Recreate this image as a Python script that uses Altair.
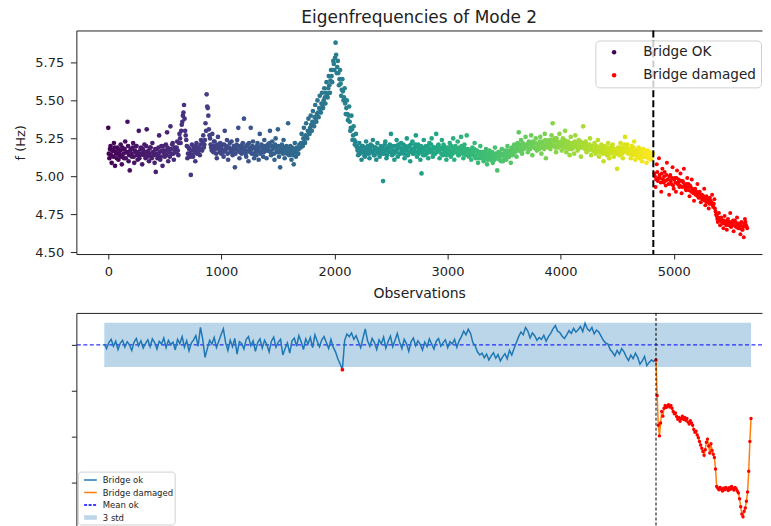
import altair as alt
import numpy as np
import pandas as pd

# ---------------- data ----------------
# Top panel: eigenfrequency (Hz), healthy bridge, one value every 10 observations from 0
ok_freq = [
    5.32, 5.12, 5.20, 5.09, 5.17, 5.22, 5.07, 5.15, 5.19, 5.11,
    5.14, 5.21, 5.08, 5.18, 5.12, 5.23, 5.16, 5.36, 5.10, 5.04,
    5.18, 5.13, 5.22, 5.09, 5.16, 5.20, 5.11, 5.30, 5.14, 5.19,
    5.08, 5.17, 5.21, 5.12, 5.31, 5.15, 5.10, 5.19, 5.13, 5.22,
    5.16, 5.09, 5.03, 5.18, 5.14, 5.27, 5.11, 5.20, 5.07, 5.17,
    5.13, 5.21, 5.29, 5.10, 5.18, 5.33, 5.15, 5.22, 5.11, 5.19,
    5.16, 5.23, 5.14, 5.28, 5.22, 5.34, 5.40, 5.47, 5.30, 5.24,
    5.12, 5.19, 5.15, 5.01, 5.21, 5.13, 5.18, 5.10, 5.22, 5.16,
    5.19, 5.14, 5.24, 5.17, 5.27, 5.21, 5.35, 5.54, 5.45, 5.31,
    5.25, 5.19, 5.28, 5.16, 5.23, 5.20, 5.12, 5.26, 5.18, 5.22,
    5.15, 5.21, 5.13, 5.30, 5.18, 5.24, 5.11, 5.19, 5.16, 5.23,
    5.14, 5.20, 5.06, 5.18, 5.24, 5.32, 5.12, 5.19, 5.15, 5.22,
    5.38, 5.17, 5.13, 5.21, 5.10, 5.19, 5.32, 5.15, 5.23, 5.12,
    5.18, 5.14, 5.22, 5.11, 5.28, 5.16, 5.20, 5.13, 5.24, 5.17,
    5.12, 5.21, 5.17, 5.30, 5.14, 5.23, 5.19, 5.11, 5.25, 5.16,
    5.31, 5.13, 5.06, 5.20, 5.17, 5.24, 5.12, 5.19, 5.15, 5.35,
    5.14, 5.20, 5.11, 5.17, 5.08, 5.22, 5.13, 5.18, 5.15, 5.21,
    5.19, 5.28, 5.20, 5.32, 5.22, 5.35, 5.25, 5.38, 5.28, 5.40,
    5.30, 5.43, 5.33, 5.47, 5.36, 5.50, 5.39, 5.53, 5.42, 5.55,
    5.45, 5.58, 5.48, 5.62, 5.52, 5.66, 5.55, 5.70, 5.62, 5.76,
    5.70, 5.88, 5.68, 5.76, 5.60, 5.70, 5.53, 5.64, 5.50, 5.58,
    5.41, 5.50, 5.37, 5.46, 5.30, 5.40, 5.24, 5.33, 5.21, 5.28,
    5.19, 5.14, 5.22, 5.16, 5.11, 5.20, 5.17, 5.13, 5.23, 5.15,
    5.18, 5.12, 5.21, 5.16, 5.24, 5.14, 5.19, 5.11, 5.22, 5.17,
    5.13, 5.20, 5.15, 4.97, 5.18, 5.23, 5.12, 5.19, 5.16, 5.21,
    5.28, 5.14, 5.20, 5.11, 5.17, 5.24, 5.13, 5.19, 5.15, 5.22,
    5.16, 5.21, 5.12, 5.18, 5.25, 5.14, 5.20, 5.10, 5.17, 5.23,
    5.15, 5.19, 5.27, 5.13, 5.21, 5.17, 5.11, 5.02, 5.18, 5.24,
    5.14, 5.20, 5.16, 5.12, 5.22, 5.18, 5.25, 5.13, 5.19, 5.15,
    5.28, 5.17, 5.21, 5.12, 5.18, 5.24, 5.14, 5.20, 5.16, 5.11,
    5.19, 5.15, 5.22, 5.13, 5.17, 5.25, 5.11, 5.20, 5.16, 5.23,
    5.14, 5.19, 5.26, 5.17, 5.12, 5.21, 5.15, 5.27, 5.18, 5.13,
    5.16, 5.11, 5.19, 5.14, 5.22, 5.12, 5.17, 5.09, 5.15, 5.20,
    5.12, 5.16, 5.10, 5.14, 5.18, 5.08, 5.13, 5.17, 5.11, 5.15,
    5.09, 5.14, 5.19, 5.12, 5.04, 5.16, 5.11, 5.15, 5.18, 5.10,
    5.14, 5.17, 5.11, 5.20, 5.13, 5.16, 5.09, 5.19, 5.15, 5.21,
    5.17, 5.13, 5.22, 5.29, 5.18, 5.24, 5.15, 5.21, 5.19, 5.26,
    5.20, 5.16, 5.23, 5.18, 5.27, 5.14, 5.22, 5.19, 5.25, 5.17,
    5.21, 5.18, 5.26, 5.15, 5.23, 5.20, 5.28, 5.12, 5.22, 5.19,
    5.24, 5.18, 5.27, 5.35, 5.20, 5.25, 5.16, 5.23, 5.19, 5.28,
    5.21, 5.17, 5.25, 5.19, 5.30, 5.16, 5.23, 5.20, 5.14, 5.26,
    5.18, 5.22, 5.15, 5.27, 5.20, 5.17, 5.24, 5.19, 5.13, 5.22,
    5.33, 5.19, 5.23, 5.16, 5.21, 5.18, 5.25, 5.14, 5.20, 5.17,
    5.22, 5.15, 5.19, 5.24, 5.13, 5.18, 5.21, 5.16, 5.10, 5.20,
    5.17, 5.14, 5.22, 5.12, 5.19, 5.16, 5.21, 5.13, 5.18, 5.15,
    5.05, 5.19, 5.14, 5.22, 5.17, 5.12, 5.20, 5.26, 5.16, 5.21,
    5.15, 5.18, 5.12, 5.20, 5.14, 5.23, 5.11, 5.17, 5.13, 5.19,
    5.12, 5.16, 5.10, 5.18, 5.13, 5.15, 5.09, 5.17, 5.12, 5.14,
    5.11, 5.15,
]
# Top panel: healthy bridge, dense core of the cloud, one value every 10 observations from 5
ok_freq_mid = [
    5.15, 5.18, 5.14, 5.17, 5.13, 5.19, 5.16, 5.12, 5.18, 5.15,
    5.17, 5.13, 5.19, 5.15, 5.18, 5.12, 5.16, 5.20, 5.14, 5.17,
    5.15, 5.19, 5.13, 5.17, 5.20, 5.14, 5.16, 5.12, 5.18, 5.15,
    5.18, 5.14, 5.16, 5.20, 5.13, 5.17, 5.15, 5.19, 5.12, 5.16,
    5.14, 5.18, 5.15, 5.12, 5.19, 5.16, 5.13, 5.17, 5.20, 5.15,
    5.17, 5.14, 5.19, 5.16, 5.13, 5.18, 5.21, 5.15, 5.18, 5.16,
    5.19, 5.17, 5.22, 5.25, 5.30, 5.36, 5.42, 5.38, 5.27, 5.20,
    5.15, 5.18, 5.13, 5.17, 5.14, 5.19, 5.16, 5.20, 5.15, 5.18,
    5.17, 5.21, 5.18, 5.22, 5.19, 5.24, 5.30, 5.46, 5.40, 5.27,
    5.21, 5.17, 5.20, 5.23, 5.18, 5.15, 5.21, 5.19, 5.16, 5.20,
    5.18, 5.16, 5.21, 5.17, 5.20, 5.15, 5.19, 5.22, 5.17, 5.18,
    5.16, 5.19, 5.15, 5.21, 5.17, 5.20, 5.16, 5.18, 5.21, 5.17,
    5.19, 5.15, 5.20, 5.17, 5.22, 5.16, 5.18, 5.20, 5.15, 5.19,
    5.16, 5.20, 5.17, 5.19, 5.15, 5.21, 5.18, 5.16, 5.20, 5.18,
    5.17, 5.19, 5.22, 5.16, 5.20, 5.18, 5.15, 5.21, 5.19, 5.17,
    5.20, 5.16, 5.18, 5.21, 5.15, 5.19, 5.17, 5.20, 5.16, 5.18,
    5.17, 5.15, 5.19, 5.14, 5.18, 5.16, 5.19, 5.15, 5.18, 5.20,
    5.22, 5.20, 5.25, 5.23, 5.27, 5.26, 5.30, 5.29, 5.32, 5.34,
    5.36, 5.35, 5.39, 5.38, 5.41, 5.42, 5.45, 5.44, 5.48, 5.47,
    5.50, 5.52, 5.55, 5.54, 5.58, 5.60, 5.63, 5.66, 5.70, 5.74,
    5.78, 5.80, 5.72, 5.68, 5.64, 5.61, 5.57, 5.56, 5.52, 5.48,
    5.45, 5.41, 5.40, 5.36, 5.32, 5.31, 5.27, 5.24, 5.23, 5.20,
    5.17, 5.19, 5.15, 5.18, 5.20, 5.16, 5.14, 5.19, 5.17, 5.20,
    5.15, 5.18, 5.16, 5.20, 5.17, 5.14, 5.19, 5.16, 5.18, 5.15,
    5.18, 5.16, 5.19, 5.15, 5.21, 5.17, 5.14, 5.18, 5.20, 5.16,
    5.19, 5.17, 5.15, 5.20, 5.16, 5.18, 5.21, 5.15, 5.19, 5.17,
    5.18, 5.15, 5.20, 5.17, 5.14, 5.19, 5.16, 5.21, 5.18, 5.15,
    5.17, 5.21, 5.16, 5.19, 5.15, 5.18, 5.20, 5.16, 5.14, 5.19,
    5.17, 5.15, 5.20, 5.18, 5.16, 5.21, 5.17, 5.15, 5.19, 5.18,
    5.16, 5.20, 5.17, 5.19, 5.15, 5.18, 5.21, 5.16, 5.18, 5.14,
    5.17, 5.19, 5.16, 5.20, 5.15, 5.18, 5.16, 5.19, 5.17, 5.14,
    5.18, 5.16, 5.20, 5.15, 5.19, 5.17, 5.14, 5.18, 5.16, 5.15,
    5.17, 5.14, 5.16, 5.18, 5.13, 5.17, 5.15, 5.12, 5.16, 5.14,
    5.13, 5.15, 5.12, 5.16, 5.13, 5.11, 5.15, 5.14, 5.12, 5.16,
    5.13, 5.11, 5.15, 5.14, 5.12, 5.16, 5.13, 5.10, 5.14, 5.15,
    5.12, 5.16, 5.14, 5.17, 5.13, 5.15, 5.18, 5.14, 5.17, 5.16,
    5.18, 5.20, 5.17, 5.21, 5.19, 5.16, 5.22, 5.18, 5.20, 5.21,
    5.19, 5.22, 5.18, 5.21, 5.20, 5.23, 5.19, 5.22, 5.18, 5.21,
    5.20, 5.23, 5.19, 5.22, 5.21, 5.18, 5.24, 5.20, 5.23, 5.21,
    5.22, 5.20, 5.24, 5.21, 5.23, 5.19, 5.25, 5.21, 5.22, 5.20,
    5.23, 5.20, 5.22, 5.24, 5.19, 5.21, 5.23, 5.18, 5.22, 5.20,
    5.21, 5.19, 5.23, 5.20, 5.22, 5.18, 5.21, 5.23, 5.19, 5.20,
    5.22, 5.18, 5.20, 5.19, 5.17, 5.21, 5.18, 5.20, 5.17, 5.19,
    5.18, 5.20, 5.17, 5.19, 5.16, 5.20, 5.18, 5.15, 5.19, 5.17,
    5.16, 5.19, 5.17, 5.15, 5.18, 5.20, 5.16, 5.18, 5.15, 5.17,
    5.18, 5.16, 5.19, 5.17, 5.15, 5.18, 5.21, 5.17, 5.19, 5.16,
    5.17, 5.15, 5.18, 5.16, 5.19, 5.15, 5.17, 5.14, 5.16, 5.18,
    5.15, 5.13, 5.16, 5.14, 5.17, 5.13, 5.15, 5.12, 5.16, 5.14,
    5.13, 5.15,
]
# Top panel: damaged bridge, one value every 10 observations from 4830
dmg_freq = [
    5.02, 4.93, 5.08, 4.97, 5.12, 4.99, 4.90, 5.05, 4.96, 5.03,
    4.94, 5.09, 4.98, 4.88, 5.01, 4.95, 5.06, 4.92, 4.99, 4.90,
    5.04, 4.96, 4.93, 5.02, 4.89, 4.97, 5.05, 4.94, 4.91, 4.99,
    4.95, 4.87, 4.93, 4.98, 4.90, 4.84, 4.92, 4.88, 4.95, 4.86,
    4.90, 4.83, 4.88, 4.85, 4.92, 4.81, 4.87, 4.84, 4.79, 4.86,
    4.82, 4.88, 4.80, 4.85, 4.77, 4.74, 4.70, 4.76, 4.68, 4.73,
    4.71, 4.66, 4.74, 4.69, 4.65, 4.72, 4.68, 4.76, 4.67, 4.70,
    4.64, 4.71, 4.67, 4.73, 4.66, 4.69, 4.62, 4.70, 4.65, 4.60,
    4.72, 4.68, 4.66,
]
# Top panel: damaged bridge, dense core, one value every 10 observations from 4835
dmg_freq_mid = [
    5.00, 4.98, 5.03, 4.99, 5.01, 4.96, 5.02, 4.98, 5.00, 4.97,
    5.01, 4.98, 4.95, 5.00, 4.97, 4.99, 4.94, 4.98, 4.96, 4.99,
    4.95, 4.98, 4.94, 4.97, 4.93, 4.96, 4.94, 4.92, 4.95, 4.93,
    4.91, 4.94, 4.90, 4.92, 4.89, 4.91, 4.88, 4.90, 4.87, 4.89,
    4.86, 4.88, 4.85, 4.87, 4.84, 4.86, 4.83, 4.85, 4.82, 4.84,
    4.83, 4.81, 4.82, 4.79, 4.75, 4.72, 4.73, 4.71, 4.72, 4.70,
    4.69, 4.71, 4.70, 4.68, 4.71, 4.69, 4.70, 4.67, 4.69, 4.71,
    4.68, 4.70, 4.67, 4.69, 4.68, 4.66, 4.68, 4.65, 4.67, 4.69,
    4.70, 4.67,
]
# Bottom panel: indicator, healthy part, one value every 20 observations from 0
ok_stat = [
    0.02, -0.08, 0.05, 0.12, -0.03, 0.08, -0.10, 0.04, 0.10, -0.05,
    0.07, 0.00, -0.12, 0.06, 0.14, -0.02, 0.09, -0.07, 0.03, 0.11,
    -0.04, 0.13, 0.05, -0.09, 0.08, 0.02, 0.15, -0.06, 0.10, 0.01,
    0.06, -0.11, 0.12, 0.03, 0.18, -0.05, 0.09, -0.13, 0.04, 0.11,
    0.20, -0.03, 0.38, 0.12, -0.27, -0.08, 0.10, 0.02, 0.16, -0.06,
    0.08, 0.22, 0.35, 0.05, -0.12, 0.10, -0.04, 0.14, -0.20, 0.07,
    0.03, -0.09, 0.12, 0.18, -0.02, 0.09, -0.14, 0.05, 0.13, -0.07,
    0.10, 0.01, -0.15, 0.08, 0.17, -0.05, 0.06, 0.12, -0.22, -0.08,
    0.04, -0.18, 0.09, 0.15, -0.03, 0.20, 0.07, -0.10, 0.13, 0.02,
    0.16, -0.06, 0.22, 0.08, -0.04, 0.11, 0.18, 0.05, -0.08, 0.12,
    -0.05, -0.15, -0.30, -0.41, -0.54, 0.10, 0.24, 0.18, 0.26, 0.12,
    0.20, 0.07, -0.06, 0.15, 0.35, 0.09, -0.03, 0.14, 0.05, -0.10,
    0.11, 0.02, 0.17, -0.07, 0.08, 0.19, -0.04, 0.10, 0.25, 0.06,
    -0.08, 0.12, 0.03, -0.14, 0.07, 0.15, -0.02, 0.09, 0.01, -0.11,
    0.06, -0.04, 0.13, 0.02, -0.09, 0.08, 0.14, -0.03, 0.05, 0.11,
    -0.06, 0.07, 0.02, 0.12, -0.05, 0.09, 0.18, 0.30, 0.22, 0.34,
    0.25, 0.05, -0.02, -0.15, -0.22, -0.18, -0.28, -0.20, -0.33, -0.24,
    -0.17, -0.29, -0.21, -0.35, -0.26, -0.19, -0.30, -0.12, -0.22, -0.08,
    0.05, 0.18, 0.28, 0.22, 0.38, 0.30, 0.15, 0.26, 0.20, 0.10,
    0.16, 0.12, 0.21, 0.08, 0.18, 0.25, 0.35, 0.42, 0.30, 0.27,
    0.19, 0.14, 0.22, 0.31, 0.25, 0.36, 0.28, 0.33, 0.40, 0.29,
    0.47, 0.35, 0.30, 0.38, 0.24, 0.32, 0.28, 0.19, 0.10, 0.04,
    0.02, -0.10, -0.16, -0.24, -0.12, -0.20, -0.08, -0.15, -0.26, -0.34,
    -0.22, -0.30, -0.18, -0.27, -0.42, -0.35, -0.25, -0.45, -0.38, -0.33,
    -0.36, -0.30,
]
# Bottom panel: indicator, damaged part, one value every 10 observations from 4820
dmg_stat = [
    -0.33, -1.10, -1.75, -1.98, -1.70, -1.45, -1.55, -1.38, -1.32, -1.36,
    -1.33, -1.30, -1.35, -1.32, -1.38, -1.45, -1.50, -1.48, -1.56, -1.62,
    -1.58, -1.66, -1.60, -1.55, -1.62, -1.58, -1.64, -1.60, -1.68, -1.72,
    -1.65, -1.70, -1.75, -1.84, -1.90, -1.88, -1.96, -2.02, -2.10, -2.18,
    -2.25, -2.32, -2.40, -2.28, -2.12, -2.05, -2.20, -2.35, -2.15, -2.30,
    -2.38, -2.45, -2.70, -3.08, -3.12, -3.15, -3.10, -3.14, -3.18, -3.12,
    -3.15, -3.10, -3.13, -3.17, -3.11, -3.14, -3.08, -3.12, -3.16, -3.10,
    -3.13, -3.18, -3.22, -3.35, -3.52, -3.68, -3.74, -3.62, -3.55, -3.40,
    -3.20, -2.75, -2.10, -1.60,
]
damage_start = 4820
band_start, band_end = 0, 5650
band_half = 0.48
legend_top = ["Bridge OK", "Bridge damaged"]
legend_bottom = ["Bridge ok", "Bridge damaged", "Mean ok", "3 std"]

FONT = "DejaVu Sans"
TXT = "#222222"
PLOT_W = 687

ok_df = pd.DataFrame({
    "obs": np.concatenate([np.arange(len(ok_freq)) * 10, 5 + np.arange(len(ok_freq_mid)) * 10]),
    "f": ok_freq + ok_freq_mid})
dmg_df = pd.DataFrame({
    "obs": np.concatenate([4830 + np.arange(len(dmg_freq)) * 10,
                           4835 + np.arange(len(dmg_freq_mid)) * 10]),
    "f": dmg_freq + dmg_freq_mid, "status": "Bridge damaged"})
st_ok_df = pd.DataFrame({"obs": np.arange(len(ok_stat)) * 20, "v": ok_stat})
st_dmg_df = pd.DataFrame({"obs": damage_start + np.arange(len(dmg_stat)) * 10, "v": dmg_stat})

# ---------------- top panel ----------------
xs_top = alt.Scale(domain=[-282, 5781], nice=False, zero=False)
ys_top = alt.Scale(domain=[4.49, 5.96], nice=False, zero=False)

x_axis_top = alt.Axis(values=[0, 1000, 2000, 3000, 4000, 5000], format="d", title="Observations",
                      grid=False, domain=True, domainColor=TXT, tickSize=5, tickColor=TXT,
                      labelFontSize=13, labelColor=TXT, labelPadding=7, titleFontSize=14,
                      titleFontWeight="normal", titleColor=TXT, titlePadding=7.5,
                      labelFont=FONT, titleFont=FONT)
frame_axis = alt.Axis(orient="top", labels=False, ticks=False, title=None, grid=False,
                      domain=True, domainColor=TXT)
y_axis_top = alt.Axis(values=[4.5, 4.75, 5.0, 5.25, 5.5, 5.75], format=".2f", title="f (Hz)",
                      grid=False, domain=True, domainColor=TXT, tickSize=6, tickColor=TXT,
                      labelFontSize=13, labelColor=TXT, labelPadding=6.7, titleFontSize=13,
                      titleFontWeight="normal", titleColor=TXT, titlePadding=7.8,
                      labelFont=FONT, titleFont=FONT)

ok_layer = alt.Chart(ok_df).mark_circle(size=22, opacity=1).encode(
    x=alt.X("obs:Q", scale=xs_top, axis=x_axis_top),
    y=alt.Y("f:Q", scale=ys_top, axis=y_axis_top),
    color=alt.Color("obs:Q", scale=alt.Scale(scheme="viridis", domain=[0, damage_start]), legend=None),
)
dmg_layer = alt.Chart(dmg_df).mark_circle(size=16, opacity=1).encode(
    x=alt.X("obs:Q", axis=None),
    y="f:Q",
    color=alt.Color("status:N",
                    scale=alt.Scale(domain=legend_top, range=["#440154", "#ff0000"]),
                    legend=alt.Legend(orient="none", legendX=520, legendY=10, title=None,
                                      labelFontSize=13.6, labelFont=FONT, labelColor=TXT,
                                      symbolType="circle", symbolSize=20, symbolOffset=7,
                                      symbolStrokeWidth=0, labelOffset=22.5, padding=5,
                                      rowPadding=8, strokeColor="#d0d0d0",
                                      fillColor="rgba(255,255,255,0.8)", cornerRadius=4)),
)
vline_top = alt.Chart(pd.DataFrame({"obs": [damage_start]})).mark_rule(
    color="black", strokeWidth=2, strokeDash=[7, 3]).encode(x=alt.X("obs:Q", axis=frame_axis))

top = alt.layer(ok_layer, dmg_layer, vline_top).resolve_scale(color="independent").resolve_axis(
    x="independent").properties(
    width=PLOT_W, height=224,
    title=alt.TitleParams("Eigenfrequencies of Mode 2", fontSize=17, fontWeight="normal",
                          font=FONT, color=TXT, anchor="middle", frame="group", offset=2),
)

# ---------------- bottom panel ----------------
xs_bot = alt.Scale(domain=[-244, 5746], nice=False, zero=False)
ys_bot = alt.Scale(domain=[-4.06, 0.696], nice=False, zero=False)
y_axis_bot = alt.Axis(values=[0, -1, -2, -3], labels=False, title=None, grid=False, domain=True,
                      domainColor=TXT, tickSize=5, tickColor=TXT)

band = alt.Chart(pd.DataFrame({"x0": [band_start], "x1": [band_end],
                               "lo": [-band_half], "hi": [band_half]})).mark_rect(
    color="#1f77b4", opacity=0.3).encode(
    x=alt.X("x0:Q", scale=xs_bot, axis=frame_axis), x2="x1",
    y=alt.Y("lo:Q", scale=ys_bot, axis=y_axis_bot), y2="hi")
mean_rule = alt.Chart(pd.DataFrame({"m": [0.0]})).mark_rule(
    color="#0000ff", strokeWidth=1, strokeDash=[4, 2.5]).encode(y="m:Q")
ok_line = alt.Chart(st_ok_df).mark_line(color="#1f77b4", strokeWidth=1.5).encode(
    x="obs:Q", y="v:Q")
ok_out = alt.Chart(st_ok_df).transform_filter(f"abs(datum.v) > {band_half}").mark_circle(
    color="#ff0000", size=14, opacity=1).encode(x="obs:Q", y="v:Q")
dmg_line = alt.Chart(st_dmg_df).mark_line(color="#ff7f0e", strokeWidth=1.5).encode(
    x="obs:Q", y="v:Q")
dmg_pts = alt.Chart(st_dmg_df).mark_circle(color="#ff0000", size=12, opacity=1).encode(
    x="obs:Q", y="v:Q")
vline_bot = alt.Chart(pd.DataFrame({"obs": [damage_start]})).mark_rule(
    color="black", strokeWidth=1, strokeDash=[3, 2]).encode(x="obs:Q")

leg_bottom = alt.Legend(orient="none", legendX=1.5, legendY=442, title=None, labelFontSize=8.5,
                        labelFont=FONT, labelColor=TXT, symbolSize=161, symbolStrokeWidth=1.5,
                        symbolOffset=0, labelOffset=9, padding=1, rowPadding=0.5,
                        strokeColor="#d0d0d0", fillColor="rgba(255,255,255,0.8)", cornerRadius=3)
leg_df = pd.DataFrame({"item": legend_bottom, "obs": [np.nan] * 4, "v": [np.nan] * 4})
legend_layer = alt.Chart(leg_df).mark_point(opacity=1).encode(
    x="obs:Q", y="v:Q",
    shape=alt.Shape("item:N", scale=alt.Scale(domain=legend_bottom, range=[
        "M-0.35,0H1.65", "M-0.35,0H1.65", "M-0.35,0H1.65", "M-0.35,-0.36H1.65V0.36H-0.35Z"]),
        legend=leg_bottom),
    stroke=alt.Stroke("item:N", scale=alt.Scale(domain=legend_bottom, range=[
        "#1f77b4", "#ff7f0e", "#0000ff", "transparent"]), legend=leg_bottom),
    fill=alt.Fill("item:N", scale=alt.Scale(domain=legend_bottom, range=[
        "transparent", "transparent", "transparent", "#bcd6e8"]), legend=leg_bottom),
    strokeDash=alt.StrokeDash("item:N", scale=alt.Scale(domain=legend_bottom, range=[
        [1, 0], [1, 0], [3, 1.5], [1, 0]]), legend=leg_bottom),
)

bottom = alt.layer(band, mean_rule, ok_line, dmg_line, dmg_pts, ok_out, vline_bot,
                   legend_layer).properties(width=PLOT_W, height=219)

chart = alt.vconcat(top, bottom, spacing=11).properties(
    padding={"left": 5.5, "top": 1, "right": 0, "bottom": 0}
).configure(font=FONT).configure_view(stroke=None)

chart.save("out.html", embed_options={"renderer": "svg", "actions": False})
